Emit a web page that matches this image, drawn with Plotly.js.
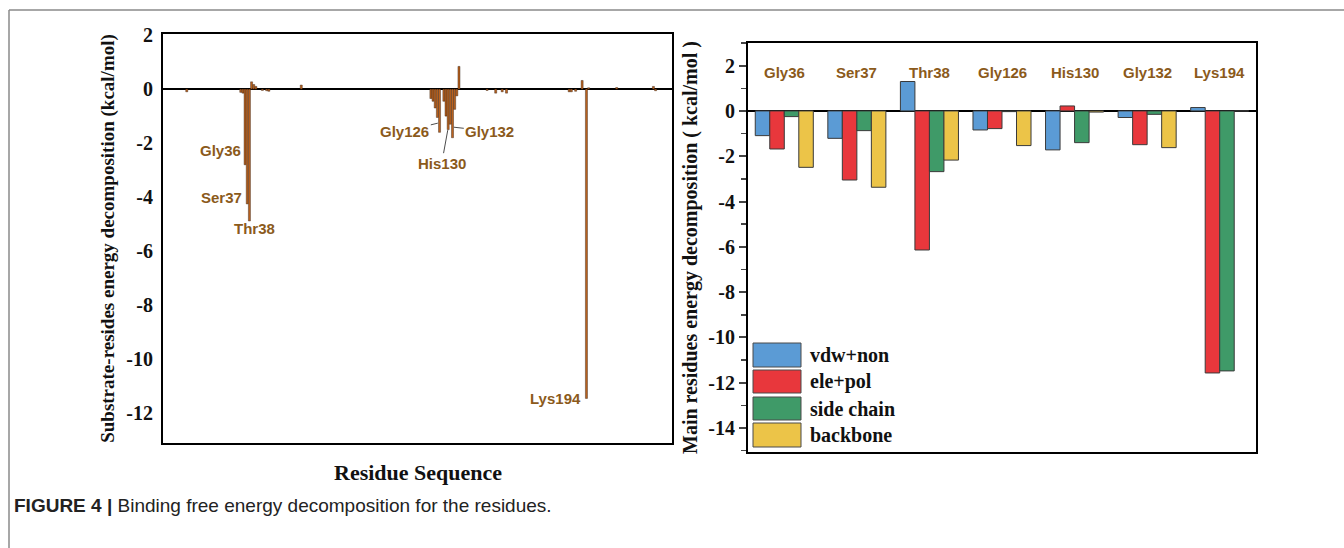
<!DOCTYPE html>
<html>
<head>
<meta charset="utf-8">
<script src="https://cdn.plot.ly/plotly-3.0.1.min.js"></script>
<style>html,body{margin:0;padding:0;background:#fff;}#chart{width:1344px;height:548px;}</style>
</head>
<body>
<div id="chart"></div>
<script>
// ---- Left panel: per-residue decomposition ----
const residueNumbers = [9, 34, 35, 36, 37, 38, 39, 40, 41, 44, 46, 47, 62,
  122, 123, 124, 125, 126, 128, 129, 130, 131, 132, 133, 134, 135,
  148, 152, 155, 157, 186, 187, 189, 192, 194, 195, 208, 225, 226];
const residueEnergies = [-0.1, -0.12, -0.15, -2.8, -4.25, -4.88, 0.27, 0.17, 0.1, -0.05, -0.06, -0.08, 0.15,
  -0.35, -0.45, -0.7, -1.05, -1.6, -0.45, -1.0, -1.5, -1.3, -1.8, -0.75, -0.25, 0.84,
  -0.05, -0.15, -0.1, -0.15, -0.1, -0.1, -0.08, 0.32, -11.45, 0.05, 0.06, 0.1, -0.06];
const leftTickVals = [2, 0, -2, -4, -6, -8, -10, -12];
const leftTickText = ["2", "0", "-2", "-4", "-6", "-8", "-10", "-12"];

// ---- Right panel: main residues ----
const mainResidues = ["Gly36", "Ser37", "Thr38", "Gly126", "His130", "Gly132", "Lys194"];
const vdwNon    = [-1.09, -1.21, 1.30, -0.84, -1.72, -0.29, 0.15];
const elePol    = [-1.68, -3.05, -6.14, -0.78, 0.22, -1.49, -11.57];
const sideChain = [-0.25, -0.87, -2.68, -0.03, -1.40, -0.15, -11.48];
const backbone  = [-2.49, -3.37, -2.17, -1.53, -0.05, -1.62, 0.0];
const seriesNames = ["vdw+non", "ele+pol", "side chain", "backbone"];
const seriesColors = ["#5b9bd5", "#e8373c", "#3f9a68", "#ecc448"];
const rightTickVals = [2, 0, -2, -4, -6, -8, -10, -12, -14];
const rightTickText = ["2", "0", "-2", "-4", "-6", "-8", "-10", "-12", "-14"];

// geometry helpers (pixel -> paper)
const W = 1344, H = 548;
const M = {l: 100, r: 80, t: 30, b: 90};
const PW = W - M.l - M.r, PH = H - M.t - M.b;
const px = v => (v - M.l) / PW;
const py = v => (H - M.b - v) / PH;

const brown = "#8b5a1b";
const serif = "Liberation Serif, Times New Roman, serif";
const sans = "Liberation Sans, Arial, sans-serif";
const bold = arr => arr.map(t => "<b>" + t + "</b>");

const traces = [{
  type: "bar", x: residueNumbers, y: residueEnergies, xaxis: "x", yaxis: "y",
  width: 0.95, marker: {color: "#b9621f", line: {color: "#2a1a10", width: 0.4}},
  showlegend: false, hoverinfo: "x+y"
}];
const seriesValues = [vdwNon, elePol, sideChain, backbone];
seriesValues.forEach((vals, i) => {
  traces.push({
    type: "bar", name: seriesNames[i], x: mainResidues, y: vals, xaxis: "x2", yaxis: "y2",
    marker: {color: seriesColors[i], line: {color: "#3a3a3a", width: 1}},
    showlegend: false
  });
});

const annotations = [];
const labelFont = {family: sans, size: 15, color: brown};
// left panel residue labels
annotations.push({xref: "x", yref: "y", x: 35, y: -2.26, text: "<b>Gly36</b>", showarrow: false, xanchor: "right", yanchor: "middle", font: labelFont});
annotations.push({xref: "x", yref: "y", x: 35.4, y: -4.0, text: "<b>Ser37</b>", showarrow: false, xanchor: "right", yanchor: "middle", font: labelFont});
annotations.push({xref: "x", yref: "y", x: 40.5, y: -5.15, text: "<b>Thr38</b>", showarrow: false, xanchor: "center", yanchor: "middle", font: labelFont});
annotations.push({xref: "x", yref: "y", x: 192.3, y: -11.44, text: "<b>Lys194</b>", showarrow: false, xanchor: "right", yanchor: "middle", font: labelFont});
const arrowStyle = {showarrow: true, arrowhead: 0, arrowwidth: 1, arrowcolor: "#4d4d4d", standoff: 0, startstandoff: 0};
annotations.push(Object.assign({xref: "x", yref: "y", x: 125.2, y: -1.26, ax: -33, ay: 8, text: "<b>Gly126</b>", font: labelFont}, arrowStyle));
annotations.push(Object.assign({xref: "x", yref: "y", x: 129.8, y: -1.52, ax: -6, ay: 33, text: "<b>His130</b>", font: labelFont}, arrowStyle));
annotations.push(Object.assign({xref: "x", yref: "y", x: 132.6, y: -1.41, ax: 36, ay: 4, text: "<b>Gly132</b>", font: labelFont}, arrowStyle));
// right panel category labels
mainResidues.forEach(r => {
  annotations.push({xref: "x2", yref: "y2", x: r, y: 1.68, text: "<b>" + r + "</b>", showarrow: false, xanchor: "center", yanchor: "middle", font: labelFont});
});
// x-axis title of the left panel
annotations.push({xref: "paper", yref: "paper", x: px(418), y: py(472), xanchor: "center", yanchor: "middle", showarrow: false,
  text: "<b>Residue Sequence</b>", font: {family: serif, size: 22, color: "#111"}});
// custom legend
const shapes = [];
const rows = [[343, 367], [370, 393], [397, 420], [423, 447]];
rows.forEach((r, i) => {
  shapes.push({type: "rect", xref: "paper", yref: "paper", x0: px(753), x1: px(801), y0: py(r[1]), y1: py(r[0]),
    fillcolor: seriesColors[i], line: {color: "#4a4a4a", width: 1}});
  annotations.push({xref: "paper", yref: "paper", x: px(808), y: py((r[0] + r[1]) / 2), text: "<b>" + seriesNames[i] + "</b>",
    showarrow: false, xanchor: "left", yanchor: "middle", font: {family: serif, size: 20, color: "#111"}});
});
// page frame lines
shapes.push({type: "line", xref: "paper", yref: "paper", x0: px(9), x1: px(1344), y0: py(10), y1: py(10), line: {color: "#8a8a8a", width: 1.5}});
shapes.push({type: "line", xref: "paper", yref: "paper", x0: px(9), x1: px(9), y0: py(10), y1: py(548), line: {color: "#8a8a8a", width: 1.5}});
// caption
annotations.push({xref: "paper", yref: "paper", x: px(12), y: py(505), xanchor: "left", yanchor: "middle", showarrow: false,
  text: "<b>FIGURE 4 |</b> Binding free energy decomposition for the residues.", font: {family: sans, size: 19, color: "#222"}});

const layout = {
  width: W, height: H, margin: M, paper_bgcolor: "#fff", plot_bgcolor: "#fff",
  showlegend: false, bargap: 0.2, bargroupgap: 0, barmode: "group",
  xaxis: {domain: [px(163), px(672)], range: [-2, 233.6], showticklabels: false, ticks: "", showgrid: false, zeroline: false,
    showline: true, mirror: true, linecolor: "#000", linewidth: 2},
  yaxis: {domain: [py(443), py(34)], range: [-13.1, 2.04], tickmode: "array", tickvals: leftTickVals, ticktext: bold(leftTickText),
    ticks: "", showgrid: false,
    zeroline: true, zerolinecolor: "#000", zerolinewidth: 2.5,
    showline: true, mirror: true, linecolor: "#000", linewidth: 2,
    tickfont: {family: serif, size: 20, color: "#111"}, ticklabelstandoff: 4,
    title: {text: "<b>Substrate-resides energy decomposition (kcal/mol)</b>", font: {family: serif, size: 19, color: "#111"}}},
  xaxis2: {domain: [px(748), px(1256)], anchor: "y2", showticklabels: false, ticks: "", showgrid: false, zeroline: false,
    showline: true, mirror: true, linecolor: "#000", linewidth: 2, range: [-0.5, 6.5]},
  yaxis2: {domain: [py(452), py(43)], anchor: "x2", range: [-15.06, 3.0], tickmode: "array", tickvals: rightTickVals, ticktext: bold(rightTickText),
    ticks: "outside", ticklen: 7, tickwidth: 2,
    minor: {dtick: 1, tick0: 0, ticks: "outside", ticklen: 5, tickwidth: 1.5, showgrid: false},
    showgrid: false, zeroline: true, zerolinecolor: "#000", zerolinewidth: 2.5,
    showline: true, mirror: true, linecolor: "#000", linewidth: 2,
    tickfont: {family: serif, size: 20, color: "#111"},
    title: {text: "<b>Main residues energy decomposition ( kcal/mol )</b>", font: {family: serif, size: 20, color: "#111"}}},
  annotations: annotations, shapes: shapes
};
Plotly.newPlot("chart", traces, layout, {displayModeBar: false, staticPlot: true});
</script>
</body>
</html>
